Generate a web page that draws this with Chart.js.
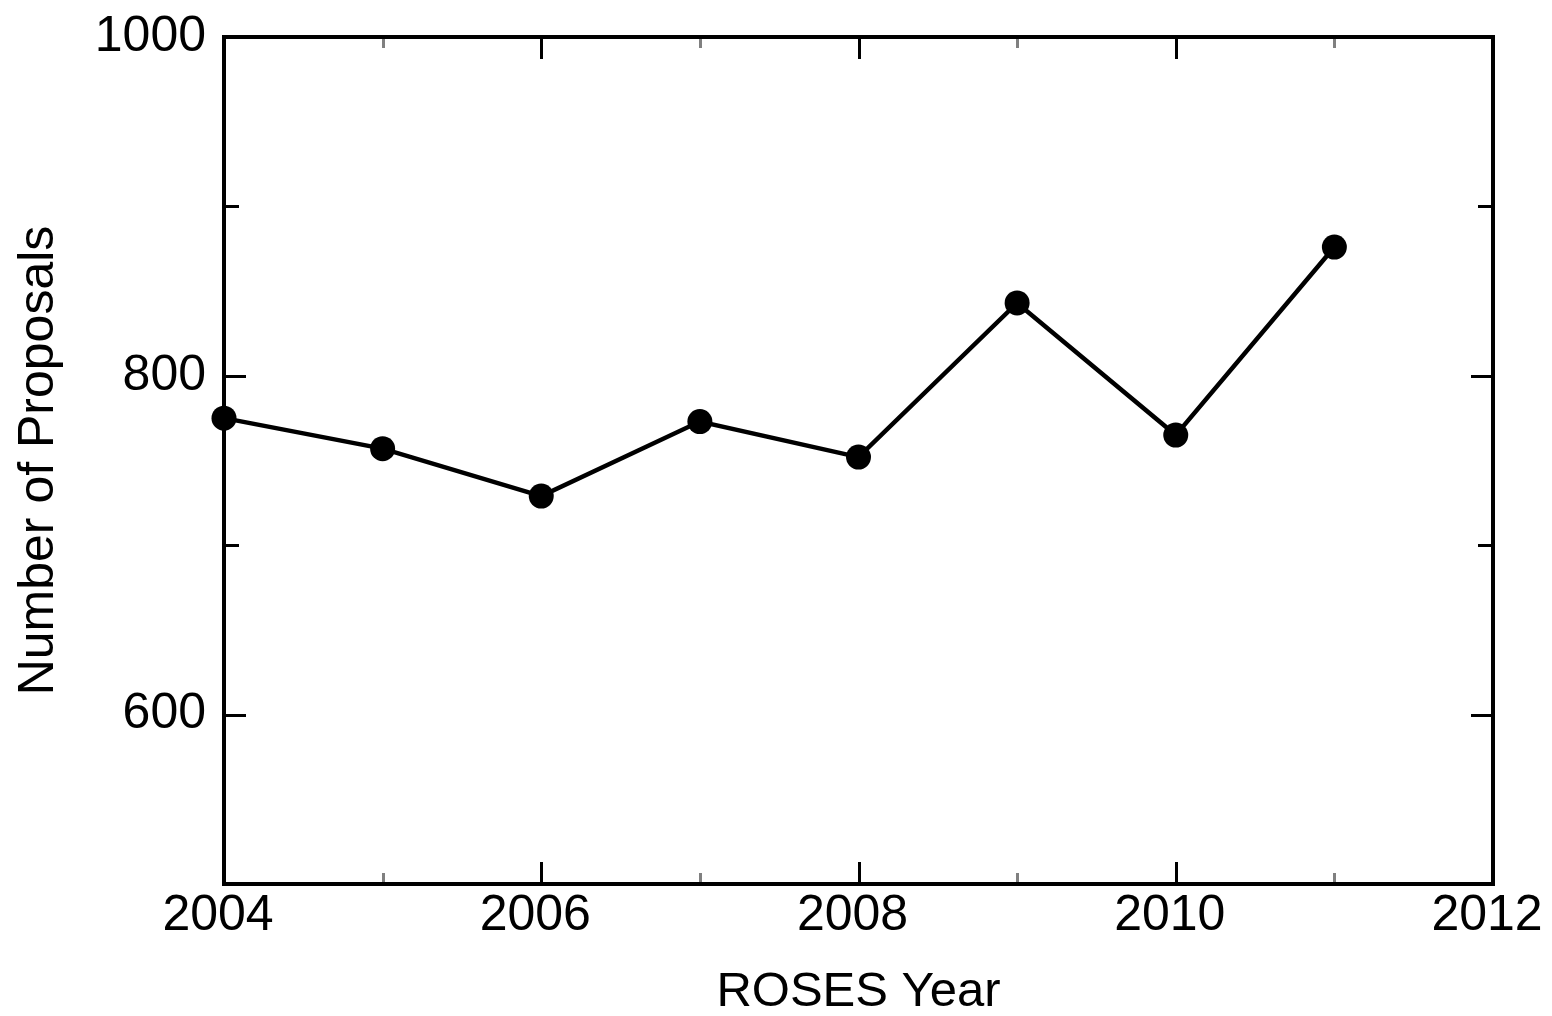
<!DOCTYPE html>
<html>
<head>
<meta charset="utf-8">
<script src="https://cdn.jsdelivr.net/npm/chart.js@4/dist/chart.umd.min.js"></script>
<style>
  html, body { margin: 0; padding: 0; background: #fff; }
  canvas { display: block; }
</style>
</head>
<body>
<canvas id="c" width="1552" height="1016"></canvas>
<script>
const years = [2004, 2005, 2006, 2007, 2008, 2009, 2010, 2011];
const proposals = [775, 757, 729, 773, 752, 843, 765, 876];
const xTickValues = [2004, 2005, 2006, 2007, 2008, 2009, 2010, 2011, 2012];
const xTickLabels = ['2004', '', '2006', '', '2008', '', '2010', '', '2012'];
const yTickValues = [500, 600, 700, 800, 900, 1000];
const yTickLabels = ['', '600', '', '800', '', '1000'];
const xTitle = 'ROSES Year';
const yTitle = 'Number of Proposals';

const FONT = '"Liberation Sans", Arial, Helvetica, sans-serif';

const frameAndTicks = {
  id: 'frameAndTicks',
  afterDatasetsDraw(chart) {
    const ctx = chart.ctx;
    const a = chart.chartArea;
    const xs = chart.scales.x, ys = chart.scales.y;
    ctx.save();
    ctx.lineCap = 'butt';
    xTickValues.forEach((v, i) => {
      const px = Math.round(xs.getPixelForValue(v)) + 0.5;
      const major = xTickLabels[i] !== '';
      const len = major ? 22 : 11;
      ctx.strokeStyle = major ? '#000' : '#808080';
      ctx.lineWidth = 3;
      ctx.beginPath();
      ctx.moveTo(px, a.bottom); ctx.lineTo(px, a.bottom - len);
      ctx.moveTo(px, a.top); ctx.lineTo(px, a.top + len);
      ctx.stroke();
    });
    yTickValues.forEach((v, i) => {
      const py = Math.round(ys.getPixelForValue(v)) + 0.5;
      const major = yTickLabels[i] !== '';
      const len = major ? 22 : 15;
      ctx.strokeStyle = '#000';
      ctx.lineWidth = 3;
      ctx.beginPath();
      ctx.moveTo(a.left, py); ctx.lineTo(a.left + len, py);
      ctx.moveTo(a.right, py); ctx.lineTo(a.right - len, py);
      ctx.stroke();
    });
    ctx.strokeStyle = '#000';
    ctx.lineWidth = 4;
    ctx.strokeRect(a.left, a.top, a.right - a.left, a.bottom - a.top);
    ctx.restore();
  }
};

new Chart(document.getElementById('c'), {
  type: 'line',
  data: {
    datasets: [{
      data: years.map((y, i) => ({ x: y, y: proposals[i] })),
      borderColor: '#000',
      borderWidth: 4.5,
      backgroundColor: '#000',
      pointBackgroundColor: '#000',
      pointBorderWidth: 0,
      pointRadius: 12.5,
      pointHoverRadius: 12.5,
      tension: 0,
      clip: false
    }]
  },
  options: {
    responsive: false,
    animation: false,
    events: [],
    layout: { padding: { top: 37, right: 59, left: 0, bottom: 0 } },
    plugins: { legend: { display: false }, tooltip: { enabled: false } },
    scales: {
      x: {
        type: 'linear',
        min: 2004, max: 2012,
        afterBuildTicks: s => { s.ticks = xTickValues.map(v => ({ value: v })); },
        afterFit: s => { s.height = 132; s.paddingLeft = 0; s.paddingRight = 0; },
        grid: { display: false, drawTicks: false },
        border: { display: false },
        ticks: {
          autoSkip: false,
          maxRotation: 0,
          padding: 2,
          labelOffset: -6,
          color: '#000',
          font: { family: FONT, size: 50 },
          callback: (v) => { const i = xTickValues.indexOf(v); return i >= 0 ? xTickLabels[i] : ''; }
        },
        title: {
          display: true, text: xTitle, color: '#000',
          font: { family: FONT, size: 49, lineHeight: 1 },
          padding: { top: 0, bottom: -1 }
        }
      },
      y: {
        type: 'linear',
        min: 500, max: 1000,
        afterBuildTicks: s => { s.ticks = yTickValues.map(v => ({ value: v })); },
        afterFit: s => { s.width = 224; s.paddingTop = 0; s.paddingBottom = 0; },
        grid: { display: false, drawTicks: false },
        border: { display: false },
        ticks: {
          autoSkip: false,
          padding: 18,
          color: '#000',
          font: { family: FONT, size: 50 },
          callback: (v) => { const i = yTickValues.indexOf(v); return i >= 0 ? yTickLabels[i] : ''; }
        },
        title: {
          display: true, text: yTitle, color: '#000',
          font: { family: FONT, size: 50 },
          padding: { top: 9, bottom: 0 }
        }
      }
    }
  },
  plugins: [frameAndTicks]
});
</script>
</body>
</html>
